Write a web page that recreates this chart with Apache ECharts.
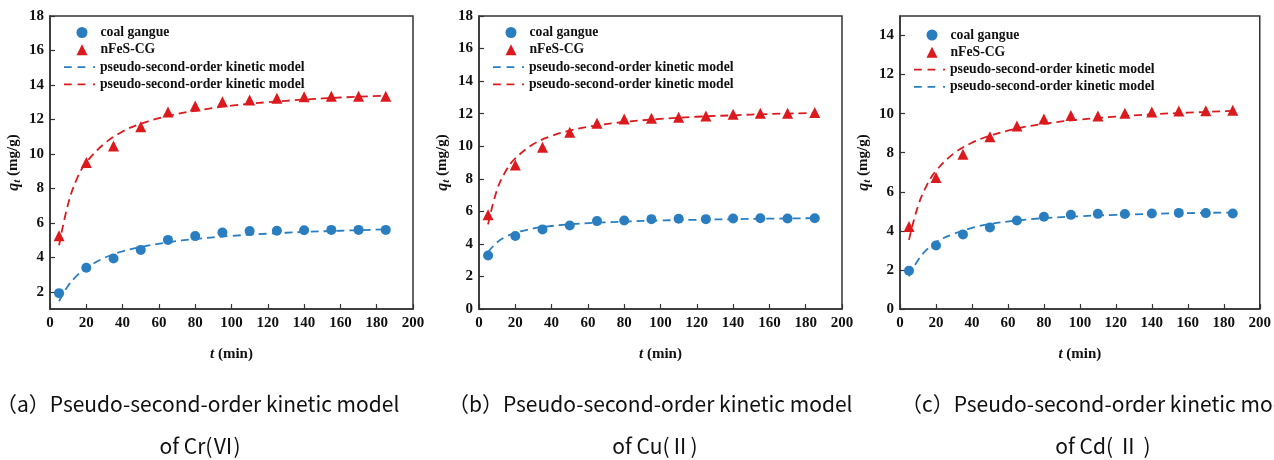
<!DOCTYPE html>
<html><head><meta charset="utf-8">
<script src="https://cdn.jsdelivr.net/npm/echarts@6/dist/echarts.min.js"></script>
<style>html,body{margin:0;padding:0;background:#fff}#c{width:1274px;height:460px}</style>
</head><body><div id="c"></div>
<script>
// ---- data ----
const times = [5, 20, 35, 50, 65, 80, 95, 110, 125, 140, 155, 170, 185];
const fitTimes = [5, 10, 15, 20, 30, 40, 50, 65, 80, 100, 120, 140, 160, 185];

const crGangue = [1.92, 3.39, 3.93, 4.43, 5.01, 5.23, 5.44, 5.52, 5.54, 5.57, 5.59, 5.59, 5.59];
const crNFeS   = [5.25, 9.50, 10.46, 11.58, 12.43, 12.78, 13.03, 13.13, 13.23, 13.32, 13.34, 13.34, 13.34];
const crFitGangue = [1.45, 2.35, 2.95, 3.38, 3.97, 4.35, 4.60, 4.87, 5.06, 5.24, 5.37, 5.47, 5.54, 5.62];
const crFitNFeS   = [4.70, 7.10, 8.60, 9.50, 10.60, 11.30, 11.75, 12.20, 12.50, 12.80, 13.00, 13.15, 13.27, 13.38];

const cuGangue = [3.29, 4.48, 4.89, 5.13, 5.40, 5.44, 5.52, 5.54, 5.52, 5.56, 5.58, 5.56, 5.58];
const cuNFeS   = [5.79, 8.85, 9.94, 10.86, 11.41, 11.68, 11.72, 11.78, 11.86, 11.96, 12.02, 12.02, 12.07];
const cuFitGangue = [3.50, 4.10, 4.45, 4.68, 4.95, 5.10, 5.20, 5.30, 5.37, 5.44, 5.48, 5.52, 5.55, 5.58];
const cuFitNFeS   = [5.20, 7.34, 8.52, 9.25, 10.13, 10.63, 10.96, 11.28, 11.49, 11.68, 11.81, 11.90, 11.98, 12.04];

const cdGangue = [1.96, 3.25, 3.82, 4.17, 4.53, 4.72, 4.82, 4.87, 4.86, 4.89, 4.92, 4.91, 4.89];
const cdNFeS   = [4.22, 6.73, 7.92, 8.82, 9.37, 9.73, 9.90, 9.88, 10.02, 10.08, 10.14, 10.15, 10.17];
const cdFitGangue = [1.67, 2.50, 3.05, 3.43, 3.85, 4.15, 4.35, 4.53, 4.65, 4.75, 4.82, 4.87, 4.91, 4.94];
const cdFitNFeS   = [3.54, 5.27, 6.35, 7.07, 7.97, 8.51, 8.87, 9.24, 9.48, 9.70, 9.85, 9.97, 10.05, 10.14];

const yTicksA = [2, 4, 6, 8, 10, 12, 14, 16, 18];
const yTicksB = [0, 2, 4, 6, 8, 10, 12, 14, 16, 18];
const yTicksC = [0, 2, 4, 6, 8, 10, 12, 14];

const legendGangue = 'coal gangue';
const legendNFeS = 'nFeS-CG';
const legendModel = 'pseudo-second-order kinetic model';

const captions1 = ['（a）Pseudo-second-order kinetic model', '（b）Pseudo-second-order kinetic model', '（c）Pseudo-second-order kinetic model'];
const captions2 = ['of Cr(Ⅵ)', 'of Cu(Ⅱ)', 'of Cd( Ⅱ )'];

// ---- styling ----
const BLUE = '#2a7ec0';
const RED = '#dc1a1e';
const AX = '#333';
const serif = '"Liberation Serif", "Times New Roman", serif';
const DASH_ICON = 'path://M0,0h8v2h-8z M14,0h8v2h-8z M30,0h2v2h-2z';

const panels = [
  {left: 50, ymin: 1, ymax: 18, yt: yTicksA, g: crGangue, n: crNFeS, fg: crFitGangue, fn: crFitNFeS, order: 'bluefirst', lt: 20},
  {left: 479, ymin: 0, ymax: 18, yt: yTicksB, g: cuGangue, n: cuNFeS, fg: cuFitGangue, fn: cuFitNFeS, order: 'bluefirst', lt: 20},
  {left: 900, ymin: 0, ymax: 15, yt: yTicksC, g: cdGangue, n: cdNFeS, fg: cdFitGangue, fn: cdFitNFeS, order: 'redfirst', lt: 22.5}
];
const W = 363, TOP = 16, H = 293;
const PITCH_GAP = 2.3;
const capLeft = [-9, 443, 896];
const capCenter = [195, 650, 1098];

const grid = [], xAxis = [], yAxis = [], series = [], legend = [], title = [];
const legText = {fontFamily: serif, fontWeight: 'bold', fontSize: 13.7, lineHeight: 15, color: '#111'};
const capFont = {fontFamily: '"Noto Sans CJK SC", "Noto Sans", sans-serif', fontWeight: 'normal', fontSize: 21, color: '#111'};
panels.forEach((p, i) => {
  grid.push({left: p.left, top: TOP, width: W, height: H, show: true, borderColor: AX, borderWidth: 1.5, backgroundColor: 'transparent'});
  xAxis.push({
    gridIndex: i, type: 'value', min: 0, max: 200, interval: 20,
    name: '{i|t} (min)', nameLocation: 'middle', nameGap: 38,
    nameTextStyle: {fontFamily: serif, fontWeight: 'bold', fontSize: 15, color: '#111',
      rich: {i: {fontFamily: serif, fontStyle: 'italic', fontWeight: 'bold', fontSize: 15, color: '#111'}}},
    axisLine: {show: true, lineStyle: {color: AX, width: 1.5}},
    axisTick: {show: true, inside: true, length: 5, lineStyle: {color: AX, width: 1.2}},
    axisLabel: {fontFamily: serif, fontWeight: 'bold', fontSize: 15, color: '#111', margin: 7},
    splitLine: {show: false}
  });
  yAxis.push({
    gridIndex: i, type: 'value', min: p.ymin, max: p.ymax,
    name: '{i|q}{s|t} (mg/g)', nameLocation: 'middle', nameGap: 27, nameRotate: 90,
    nameTextStyle: {fontFamily: serif, fontWeight: 'bold', fontSize: 15, color: '#111',
      rich: {
        i: {fontFamily: serif, fontStyle: 'italic', fontWeight: 'bold', fontSize: 16, color: '#111'},
        s: {fontFamily: serif, fontStyle: 'italic', fontWeight: 'bold', fontSize: 11, color: '#111', padding: [8, 0, 0, 0]}
      }},
    axisLine: {show: true, lineStyle: {color: AX, width: 1.5}},
    axisTick: {show: true, inside: true, length: 5, customValues: p.yt, lineStyle: {color: AX, width: 1.2}},
    axisLabel: {fontFamily: serif, fontWeight: 'bold', fontSize: 15, color: '#111', margin: 6, customValues: p.yt},
    splitLine: {show: false}
  });
  const nmBlue = legendModel + '\u200b'.repeat(i * 2 + 1);
  const nmRed = legendModel + '\u200b'.repeat(i * 2 + 2);
  const gName = legendGangue + '\u200b'.repeat(i);
  const nName = legendNFeS + '\u200b'.repeat(i);
  series.push({
    name: gName, type: 'scatter', xAxisIndex: i, yAxisIndex: i,
    data: times.map((t, k) => [t, p.g[k]]), symbol: 'circle', symbolSize: 10,
    itemStyle: {color: BLUE, opacity: 1}, z: 5
  });
  series.push({
    name: nName, type: 'scatter', xAxisIndex: i, yAxisIndex: i,
    data: times.map((t, k) => [t, p.n[k]]), symbol: 'triangle', symbolSize: 11,
    itemStyle: {color: RED, opacity: 1}, z: 5
  });
  series.push({
    name: nmBlue, type: 'line', xAxisIndex: i, yAxisIndex: i, smooth: 0.4,
    data: fitTimes.map((t, k) => [t, p.fg[k]]), showSymbol: false, symbol: 'none',
    lineStyle: {color: BLUE, width: 1.8, type: [8, 5]}, itemStyle: {color: BLUE}, z: 3
  });
  series.push({
    name: nmRed, type: 'line', xAxisIndex: i, yAxisIndex: i, smooth: 0.4,
    data: fitTimes.map((t, k) => [t, p.fn[k]]), showSymbol: false, symbol: 'none',
    lineStyle: {color: RED, width: 1.8, type: [8, 5]}, itemStyle: {color: RED}, z: 3
  });
  const fmt = s => s.replace(/\u200b+$/, '');
  legend.push({
    data: [{name: gName, icon: 'circle'}, {name: nName, icon: 'triangle'}],
    orient: 'vertical', left: p.left + 21.5, top: p.lt,
    itemWidth: 11, itemHeight: 11, itemGap: PITCH_GAP, selectedMode: false,
    formatter: fmt, textStyle: Object.assign({padding: [0, 0, 0, 8]}, legText)
  });
  const lineNames = p.order === 'bluefirst' ? [nmBlue, nmRed] : [nmRed, nmBlue];
  legend.push({
    data: lineNames.map(n => ({name: n, icon: DASH_ICON})),
    orient: 'vertical', left: p.left + 9, top: p.lt + 2 * (15 + PITCH_GAP),
    itemWidth: 31, itemHeight: 11, itemGap: PITCH_GAP, selectedMode: false,
    formatter: fmt, textStyle: Object.assign({}, legText)
  });
  title.push({text: captions1[i], left: capLeft[i], top: 389, textStyle: capFont});
  title.push({text: captions2[i], left: capCenter[i], textAlign: 'center', top: 431, textStyle: capFont});
});

const chart = echarts.init(document.getElementById('c'), null, {renderer: 'canvas'});
chart.setOption({
  animation: false, backgroundColor: '#fff',
  grid, xAxis, yAxis, series, legend, title
});
</script></body></html>
